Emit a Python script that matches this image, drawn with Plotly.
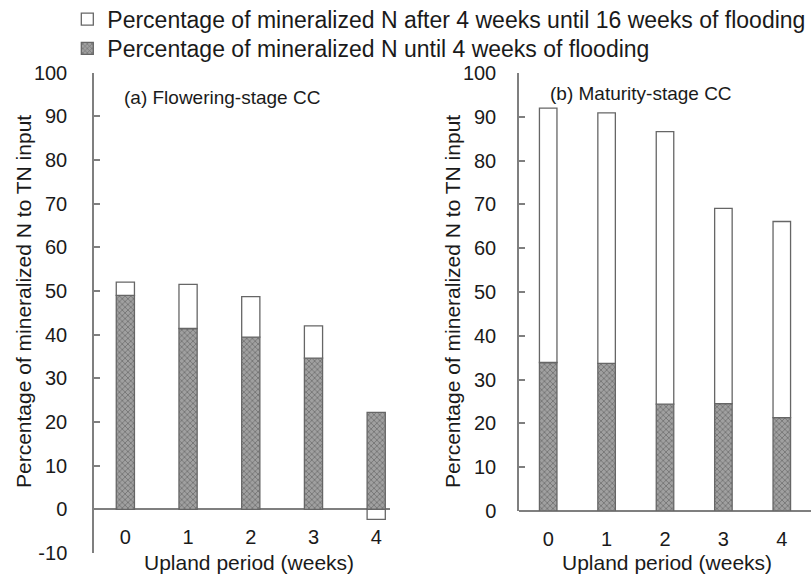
import plotly.graph_objects as go

weeks = [0, 1, 2, 3, 4]
tick_labels = ["0", "1", "2", "3", "4"]

# y tick labels (left panel uses a plain hyphen for -10, as in the reference)
left_yticks = [-10, 0, 10, 20, 30, 40, 50, 60, 70, 80, 90, 100]
left_ytick_text = ["-10", "0", "10", "20", "30", "40", "50", "60", "70", "80", "90", "100"]

# (a) Flowering-stage CC
flow_until4 = [49.0, 41.4, 39.4, 34.6, 22.2]
flow_after4 = [3.0, 10.1, 9.3, 7.4, -2.3]

# (b) Maturity-stage CC
mat_until4 = [33.9, 33.7, 24.4, 24.5, 21.3]
mat_after4 = [58.1, 57.2, 62.2, 44.6, 44.8]

name_until = "Percentage of mineralized N until 4 weeks of flooding"
name_after = "Percentage of mineralized N after 4 weeks until 16 weeks of flooding"

FONT = "Liberation Sans, Arial, sans-serif"
TXT = "#1a1a1a"
GRAY = "#7f7f7f"
EDGE = "#666666"

dark_marker = dict(
    color="#8a8a8a",
    pattern=dict(shape="x", fgcolor="#3c3c3c", bgcolor="#a0a0a0", size=4, solidity=0.35),
    line=dict(color=EDGE, width=1.3),
)
white_marker = dict(color="white", line=dict(color=EDGE, width=1.3))

fig = go.Figure()
fig.add_trace(go.Bar(x=weeks, y=flow_until4, width=0.29, marker=dark_marker,
                     name=name_until, legend="legend2", xaxis="x", yaxis="y"))
fig.add_trace(go.Bar(x=weeks, y=flow_after4, width=0.29, marker=white_marker,
                     name=name_after, legend="legend", xaxis="x", yaxis="y"))
fig.add_trace(go.Bar(x=weeks, y=mat_until4, width=0.30, marker=dark_marker,
                     name=name_until, showlegend=False, xaxis="x2", yaxis="y2"))
fig.add_trace(go.Bar(x=weeks, y=mat_after4, width=0.30, marker=white_marker,
                     name=name_after, showlegend=False, xaxis="x2", yaxis="y2"))

yax_common = dict(
    showgrid=False, showline=True, linecolor=GRAY, linewidth=1.5,
    ticks="inside", ticklen=6, tickcolor=GRAY, tickwidth=1.5,
    zeroline=True, zerolinecolor=GRAY, zerolinewidth=1.5, automargin=False,
    tickfont=dict(size=20, color=TXT, family=FONT),
)
xax_common = dict(
    showgrid=False, showline=False, zeroline=False, ticks="", automargin=False,
    tickmode="array", tickvals=weeks, ticktext=tick_labels,
    tickfont=dict(size=20, color=TXT, family=FONT), ticklabelstandoff=14,
)

leg_common = dict(xanchor="left", yanchor="top", bgcolor="rgba(0,0,0,0)",
                  font=dict(size=23, color=TXT, family=FONT))

fig.update_layout(
    width=811, height=579,
    margin=dict(l=0, r=0, t=0, b=0, autoexpand=False),
    paper_bgcolor="white", plot_bgcolor="rgba(0,0,0,0)",
    barmode="relative",
    font=dict(family=FONT, size=20, color=TXT),
    xaxis=dict(domain=[94 / 811, 390 / 811], range=[-0.5, 4.22], anchor="free",
               position=1 - 509 / 579, **xax_common),
    yaxis=dict(domain=[1 - 553 / 579, 1 - 72.5 / 579], range=[-10, 100], anchor="x",
               tickmode="array", tickvals=left_yticks, ticktext=left_ytick_text,
               ticklabelstandoff=21, **yax_common),
    xaxis2=dict(domain=[519 / 811, 1.0], range=[-0.5, 4.5], anchor="y2", **xax_common),
    yaxis2=dict(domain=[1 - 511 / 579, 1 - 73 / 579], range=[0, 100], anchor="x2",
                dtick=10, ticklabelstandoff=17, **yax_common),
    legend=dict(x=0.083, y=1.004, **leg_common),
    legend2=dict(x=0.083, y=1 - 27 / 579, **leg_common),
    showlegend=True,
)

ann = [
    dict(text="(a) Flowering-stage CC", x=122 / 811, y=1 - 98 / 579, xanchor="left", size=19),
    dict(text="(b) Maturity-stage CC", x=548 / 811, y=1 - 94 / 579, xanchor="left", size=19),
    dict(text="Upland period (weeks)", x=249 / 811, y=1 - 562 / 579, xanchor="center", size=21),
    dict(text="Upland period (weeks)", x=667 / 811, y=1 - 562 / 579, xanchor="center", size=21),
    dict(text="Percentage of mineralized N to TN input", x=23 / 811, y=1 - 302 / 579,
         xanchor="center", textangle=-90, size=21),
    dict(text="Percentage of mineralized N to TN input", x=452 / 811, y=1 - 302 / 579,
         xanchor="center", textangle=-90, size=21),
]
for a in ann:
    size = a.pop("size")
    fig.add_annotation(xref="paper", yref="paper", yanchor="middle", showarrow=False,
                       font=dict(size=size, color=TXT, family=FONT), **a)

fig.write_html("out.html")
